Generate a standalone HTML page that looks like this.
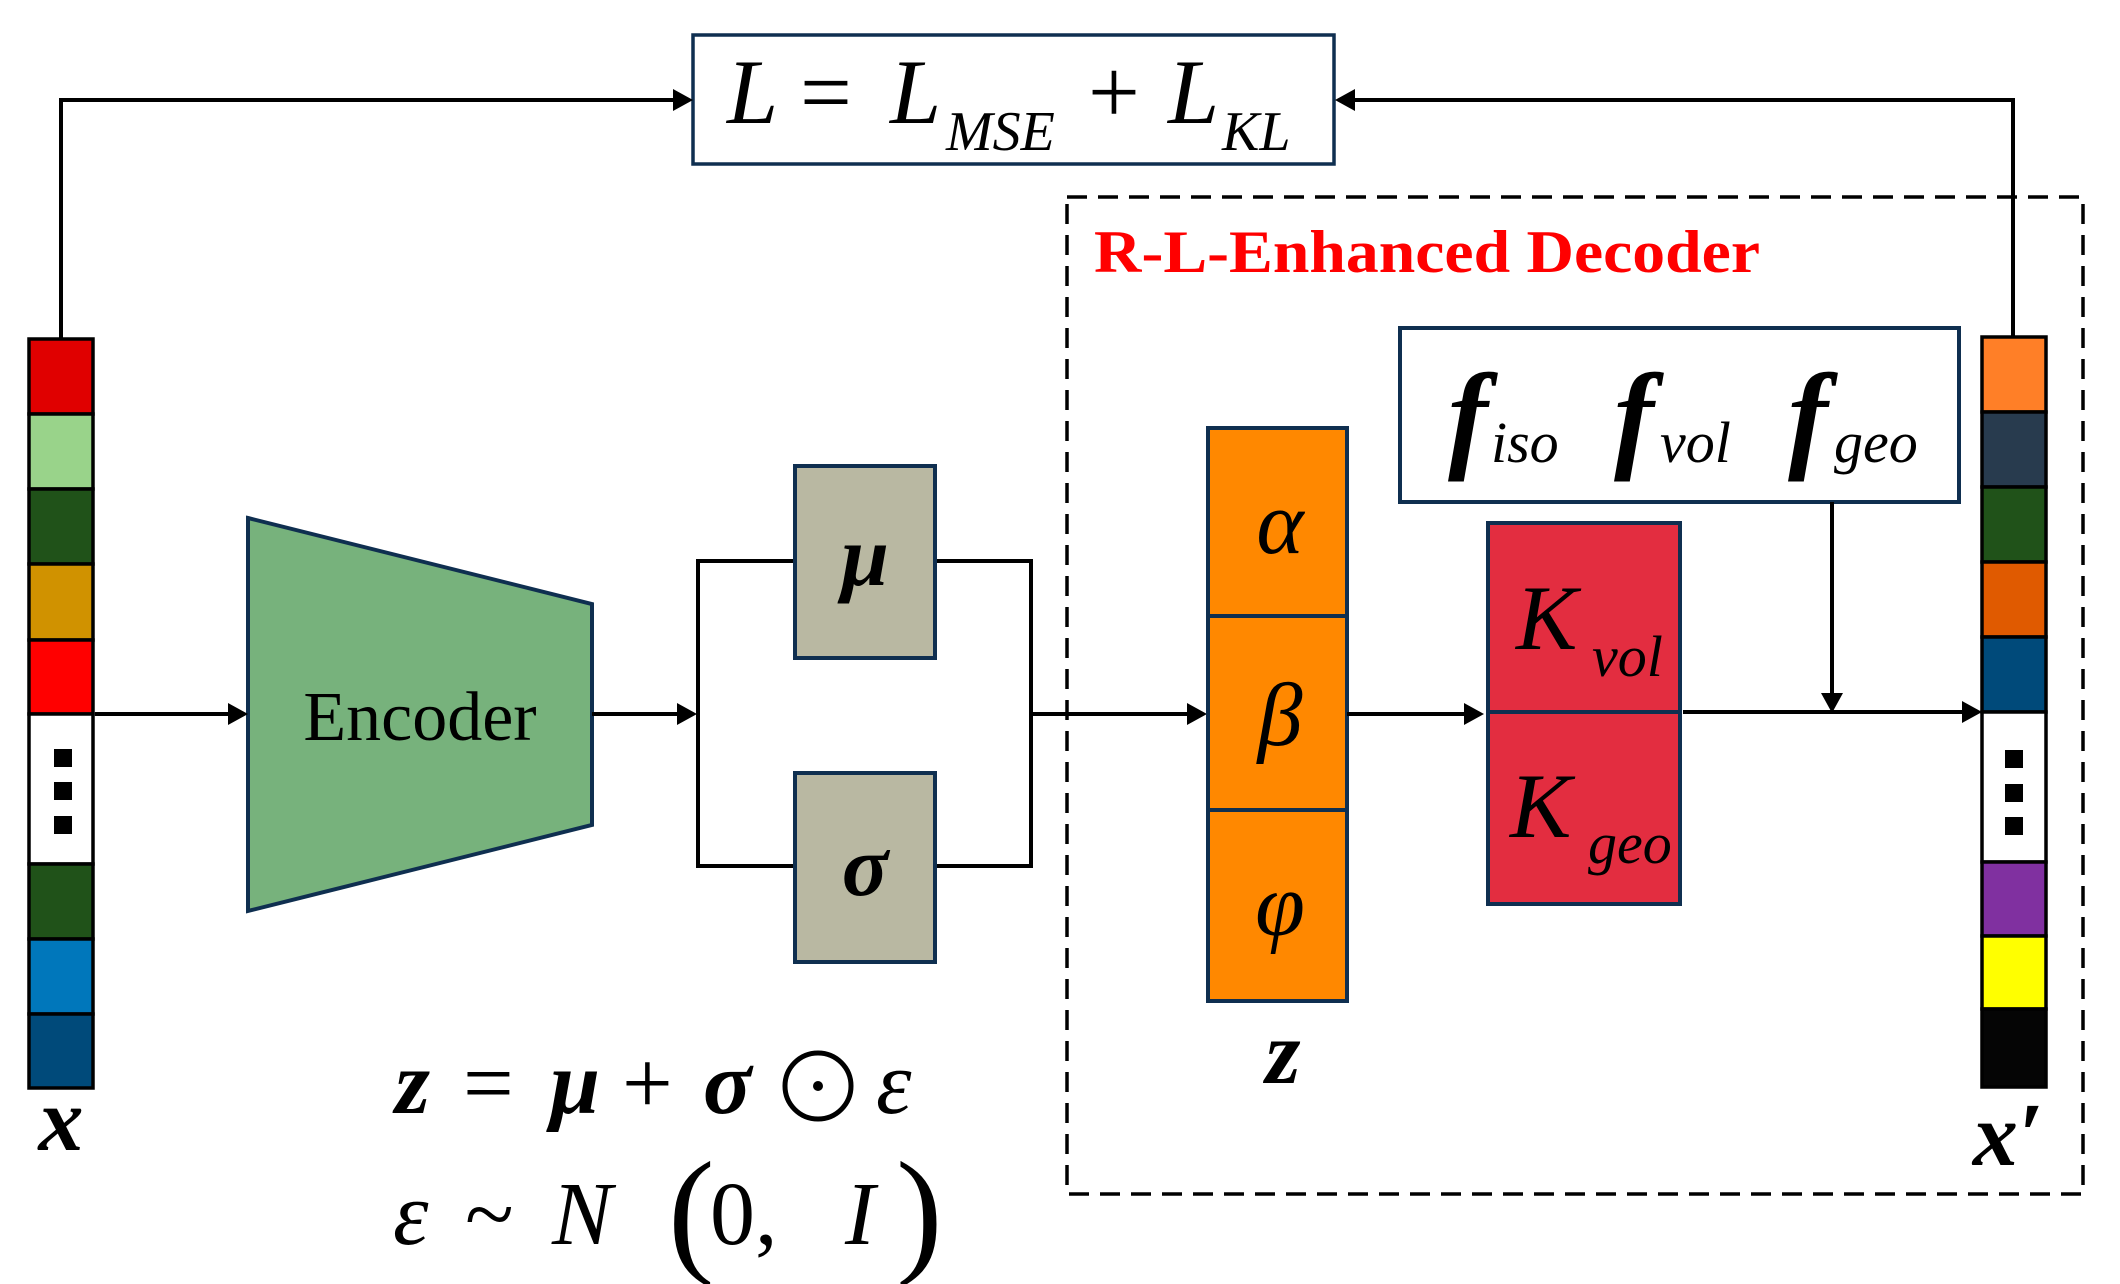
<!DOCTYPE html>
<html><head><meta charset="utf-8"><style>
html,body{margin:0;padding:0;background:#fff;}
svg{display:block;}
text{font-family:"Liberation Serif",serif;}
</style></head><body>
<svg width="2120" height="1284" viewBox="0 0 2120 1284" xmlns="http://www.w3.org/2000/svg">
<rect width="2120" height="1284" fill="#fff"/>

<!-- dashed decoder box -->
<rect x="1067" y="197" width="1016" height="997" fill="none" stroke="#000" stroke-width="3.5" stroke-dasharray="20,11"/>
<text x="1094" y="272" font-size="60" font-weight="bold" fill="#ff0000" textLength="666" lengthAdjust="spacingAndGlyphs">R-L-Enhanced Decoder</text>

<!-- loss box -->
<rect x="693" y="35" width="641" height="129" fill="#fff" stroke="#0f2f50" stroke-width="3.5"/>
<text x="727" y="123" font-size="92" font-style="italic">L</text>
<text x="800" y="123" font-size="92">=</text>
<text x="890" y="123" font-size="92" font-style="italic">L</text>
<text x="946" y="150" font-size="56" font-style="italic">MSE</text>
<text x="1088" y="123" font-size="92">+</text>
<text x="1168" y="123" font-size="92" font-style="italic">L</text>
<text x="1222" y="150" font-size="56" font-style="italic">KL</text>

<!-- loss connectors -->
<polyline points="61,339 61,100 673,100" fill="none" stroke="#000" stroke-width="4"/>
<polygon points="693,100 673,89 673,111" fill="#000"/>
<polyline points="2013,337 2013,100 1354,100" fill="none" stroke="#000" stroke-width="4"/>
<polygon points="1335,100 1355,89 1355,111" fill="#000"/>

<!-- left bar -->
<g stroke="#000" stroke-width="3.5">
<rect x="29" y="339" width="64" height="75" fill="#e00000"/>
<rect x="29" y="414" width="64" height="75" fill="#99d38a"/>
<rect x="29" y="489" width="64" height="75" fill="#205219"/>
<rect x="29" y="564" width="64" height="76" fill="#d09200"/>
<rect x="29" y="640" width="64" height="74" fill="#ff0000"/>
<rect x="29" y="714" width="64" height="150" fill="#ffffff"/>
<rect x="29" y="864" width="64" height="75" fill="#205219"/>
<rect x="29" y="939" width="64" height="75" fill="#0077bb"/>
<rect x="29" y="1014" width="64" height="74" fill="#004a7a"/>
</g>
<rect x="54" y="749" width="18" height="18" fill="#000"/>
<rect x="54" y="782" width="18" height="18" fill="#000"/>
<rect x="54" y="816" width="18" height="18" fill="#000"/>
<text x="61" y="1150" font-size="90" font-style="italic" font-weight="bold" text-anchor="middle">x</text>

<!-- right bar -->
<g stroke="#000" stroke-width="3.5">
<rect x="1982" y="337" width="64" height="75" fill="#ff7f27"/>
<rect x="1982" y="412" width="64" height="75" fill="#283b4e"/>
<rect x="1982" y="487" width="64" height="75" fill="#205219"/>
<rect x="1982" y="562" width="64" height="75" fill="#e05a00"/>
<rect x="1982" y="637" width="64" height="75" fill="#004a7a"/>
<rect x="1982" y="712" width="64" height="150" fill="#ffffff"/>
<rect x="1982" y="862" width="64" height="74" fill="#8030a0"/>
<rect x="1982" y="936" width="64" height="73" fill="#ffff00"/>
<rect x="1982" y="1009" width="64" height="78" fill="#050505"/>
</g>
<rect x="2005" y="750" width="18" height="18" fill="#000"/>
<rect x="2005" y="784" width="18" height="18" fill="#000"/>
<rect x="2005" y="817" width="18" height="18" fill="#000"/>
<text x="2008" y="1165" font-size="90" font-style="italic" font-weight="bold" text-anchor="middle">x′</text>

<!-- encoder -->
<polygon points="248,518 592,604 592,825 248,911" fill="#77b27c" stroke="#0f2f50" stroke-width="4"/>
<text x="420" y="740" font-size="70" text-anchor="middle">Encoder</text>

<!-- arrows -->
<line x1="95" y1="714" x2="230" y2="714" stroke="#000" stroke-width="4"/>
<polygon points="248,714 228,703 228,725" fill="#000"/>
<line x1="592" y1="714" x2="679" y2="714" stroke="#000" stroke-width="4"/>
<polygon points="697,714 677,703 677,725" fill="#000"/>

<!-- bracket -->
<polyline points="794,561 698,561 698,866 794,866" fill="none" stroke="#000" stroke-width="4"/>
<polyline points="935,561 1031,561 1031,866 935,866" fill="none" stroke="#000" stroke-width="4"/>
<rect x="795" y="466" width="140" height="192" fill="#b9b8a2" stroke="#0f2f50" stroke-width="4"/>
<text x="865" y="585" font-size="86" font-style="italic" font-weight="bold" text-anchor="middle">μ</text>
<rect x="795" y="773" width="140" height="189" fill="#b9b8a2" stroke="#0f2f50" stroke-width="4"/>
<text x="865" y="895" font-size="86" font-style="italic" font-weight="bold" text-anchor="middle">σ</text>

<line x1="1031" y1="714" x2="1189" y2="714" stroke="#000" stroke-width="4"/>
<polygon points="1207,714 1187,703 1187,725" fill="#000"/>

<!-- z column -->
<g stroke="#0f2f50" stroke-width="4">
<rect x="1208" y="428" width="139" height="188" fill="#ff8800"/>
<rect x="1208" y="616" width="139" height="194" fill="#ff8800"/>
<rect x="1208" y="810" width="139" height="191" fill="#ff8800"/>
</g>
<text x="1280" y="553" font-size="90" font-style="italic" text-anchor="middle">α</text>
<text x="1280" y="745" font-size="90" font-style="italic" text-anchor="middle">β</text>
<text x="1280" y="935" font-size="90" font-style="italic" text-anchor="middle">φ</text>
<text x="1283" y="1083" font-size="90" font-style="italic" font-weight="bold" text-anchor="middle">z</text>

<line x1="1347" y1="714" x2="1466" y2="714" stroke="#000" stroke-width="4"/>
<polygon points="1484,714 1464,703 1464,725" fill="#000"/>

<!-- K box -->
<g stroke="#0f2f50" stroke-width="4">
<rect x="1488" y="523" width="192" height="189" fill="#e32d40"/>
<rect x="1488" y="712" width="192" height="192" fill="#e32d40"/>
</g>
<text x="1516" y="649" font-size="92" font-style="italic">K</text>
<text x="1592" y="676" font-size="58" font-style="italic">vol</text>
<text x="1510" y="837" font-size="92" font-style="italic">K</text>
<text x="1588" y="863" font-size="58" font-style="italic">geo</text>

<!-- f box -->
<rect x="1400" y="328" width="559" height="174" fill="#fff" stroke="#0f2f50" stroke-width="4"/>
<text x="1448" y="456" font-size="120" font-style="italic" font-weight="bold">f</text>
<text x="1491" y="462" font-size="58" font-style="italic">iso</text>
<text x="1614" y="456" font-size="120" font-style="italic" font-weight="bold">f</text>
<text x="1660" y="462" font-size="58" font-style="italic">vol</text>
<text x="1788" y="456" font-size="120" font-style="italic" font-weight="bold">f</text>
<text x="1834" y="462" font-size="58" font-style="italic">geo</text>

<line x1="1832" y1="502" x2="1832" y2="695" stroke="#000" stroke-width="4"/>
<polygon points="1832,713 1821,693 1843,693" fill="#000"/>
<line x1="1683" y1="712" x2="1964" y2="712" stroke="#000" stroke-width="4"/>
<polygon points="1982,712 1962,701 1962,723" fill="#000"/>

<!-- equations -->
<text x="395" y="1113" font-size="90" font-style="italic" font-weight="bold">z</text>
<text x="463" y="1113" font-size="90">=</text>
<text x="550" y="1113" font-size="90" font-style="italic" font-weight="bold">μ</text>
<text x="622" y="1113" font-size="90">+</text>
<text x="703" y="1113" font-size="90" font-style="italic" font-weight="bold">σ</text>
<circle cx="818" cy="1086" r="33" fill="none" stroke="#000" stroke-width="5"/>
<circle cx="818" cy="1086" r="5" fill="#000"/>
<text x="876" y="1113" font-size="90" font-style="italic">ε</text>
<text x="393" y="1244" font-size="90" font-style="italic">ε</text>
<text x="465" y="1244" font-size="90">~</text>
<text x="552" y="1244" font-size="90" font-style="italic">N</text>
<text x="668" y="1258" font-size="140">(</text>
<text x="710" y="1244" font-size="90">0,</text>
<text x="845" y="1244" font-size="90" font-style="italic">I</text>
<text x="896" y="1258" font-size="140">)</text>
</svg>
</body></html>
